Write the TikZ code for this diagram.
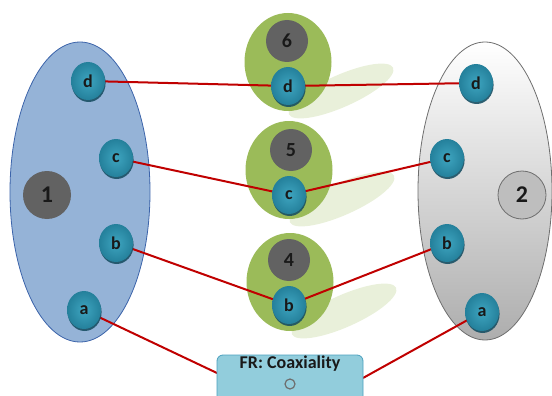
\documentclass[tikz,border=0pt]{standalone}
\usepackage{fontspec}
\setmainfont{Carlito}
\usetikzlibrary{shapes.geometric,shadows}
\definecolor{lblue}{RGB}{149,179,215}
\definecolor{dblue}{RGB}{60,100,170}
\definecolor{tealin}{RGB}{62,165,192}
\definecolor{tealout}{RGB}{36,128,155}
\definecolor{tealsh}{RGB}{25,80,100}
\definecolor{dgray}{RGB}{98,98,98}
\definecolor{lgray}{RGB}{190,190,190}
\definecolor{mgray}{RGB}{110,110,110}
\definecolor{grn}{RGB}{155,187,89}
\definecolor{lgrn}{RGB}{233,240,218}
\definecolor{redl}{RGB}{192,0,0}
\definecolor{frfill}{RGB}{146,205,220}
\definecolor{frdraw}{RGB}{75,160,190}
\definecolor{txt}{RGB}{25,25,25}
\pgfdeclarelayer{bg}
\pgfdeclarelayer{lines}
\pgfsetlayers{bg,lines,main}
\tikzset{
  bigell/.style={ellipse, inner sep=0pt},
  tealnode/.style={ellipse, minimum width=34pt, minimum height=38pt, inner sep=0pt,
    inner color=tealin, outer color=tealout,
    drop shadow={shadow xshift=0.6pt, shadow yshift=-2pt, fill=tealsh, opacity=0.9},
    font=\bfseries\fontsize{18}{18}\selectfont, text=txt},
  graynode/.style={circle, minimum size=42pt, inner sep=0pt, fill=dgray,
    font=\bfseries\fontsize{20}{20}\selectfont, text=txt},
  bignum/.style={graynode, minimum size=48pt, font=\bfseries\fontsize{24}{24}\selectfont},
  greenell/.style={ellipse, minimum width=87pt, minimum height=98pt, fill=grn, inner sep=0pt},
  greensh/.style={ellipse, minimum width=114pt, minimum height=32pt, fill=lgrn, inner sep=0pt, rotate=24},
  conn/.style={draw=redl, line width=2pt},
}
\begin{document}
\begin{tikzpicture}[x=1pt,y=-1pt]
\useasboundingbox (0,0) rectangle (552,396);
\begin{pgfonlayer}{bg}
  \node[bigell, minimum width=140pt, minimum height=300pt, fill=lblue, draw=dblue, line width=0.8pt] (L) at (80,192) {};
  \node[bigell, minimum width=134pt, minimum height=298pt, top color=white, bottom color=black!32, draw=mgray, line width=0.8pt] (R) at (485,191) {};
  \node[greensh] (s6) at (341,91) {};
  \node[greensh] (s5) at (342,199) {};
  \node[greensh] (s4) at (344,311) {};
  \node[greenell] (g6) at (288,62) {};
  \node[greenell] (g5) at (289,170) {};
  \node[greenell] (g4) at (290,282) {};
\end{pgfonlayer}
% gray number nodes
\node[bignum] (n1) at (47,195) {1};
\node[bignum, fill=lgray, draw=mgray, line width=0.8pt] (n2) at (522,195) {2};
\node[graynode] (n6) at (287,41) {6};
\node[graynode] (n5) at (291,150) {5};
\node[graynode] (n4) at (289,260) {4};
% teal nodes
\node[tealnode] (Ld) at (88,81) {d};
\node[tealnode] (Lc) at (116,158) {c};
\node[tealnode] (Lb) at (116,243) {b};
\node[tealnode] (La) at (84,310) {a};
\node[tealnode] (Rd) at (476,83) {d};
\node[tealnode] (Rc) at (447,158) {c};
\node[tealnode] (Rb) at (447,243) {b};
\node[tealnode] (Ra) at (482,312) {a};
\node[tealnode] (Md) at (288,86) {d};
\node[tealnode] (Mc) at (289,195) {c};
\node[tealnode] (Mb) at (289,305) {b};
% FR box
\node[draw=frdraw, fill=frfill, rounded corners=6pt, line width=0.8pt,
  minimum width=146pt, minimum height=48pt, inner sep=0pt] (fr) at (290,379) {};
\node[font=\bfseries\fontsize{18}{18}\selectfont, text=txt] (frt) at (290,364) {FR: Coaxiality};
\node[circle, draw=mgray, line width=1.2pt, minimum size=10pt, inner sep=0pt] (frc) at (290,384) {};
\coordinate (frl) at (217,373);
\coordinate (frr) at (363,378);
% connectors
\begin{pgfonlayer}{lines}
  \draw[conn] (Ld.center) -- (Md.center) -- (Rd.center);
  \draw[conn] (Lc.center) -- (Mc.center) -- (Rc.center);
  \draw[conn] (Lb.center) -- (Mb.center) -- (Rb.center);
  \draw[conn] (La.center) -- (frl);
  \draw[conn] (frr) -- (Ra.center);
\end{pgfonlayer}
\end{tikzpicture}
\end{document}
